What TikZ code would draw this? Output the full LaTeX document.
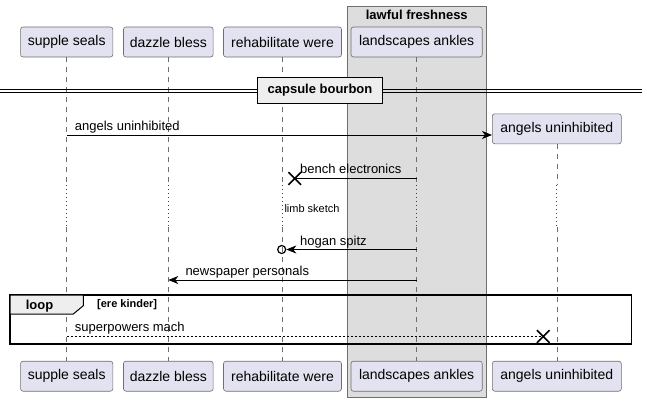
\documentclass[tikz,border=0pt]{standalone}
\usepackage{fontspec}
\setmainfont{Liberation Sans}
\usetikzlibrary{arrows.meta, positioning, calc}
\definecolor{partfill}{HTML}{E2E2F0}
\definecolor{partline}{HTML}{6E6E6E}
\definecolor{boxfill}{HTML}{DDDDDD}
\definecolor{framefill}{HTML}{EEEEEE}
\definecolor{delaycol}{HTML}{C0004A}

\begin{document}
\begin{tikzpicture}[x=1pt, y=-1pt,
  every node/.style={font=\fontsize{13}{15}\selectfont, inner sep=0pt},
  part/.style={draw=partline, line width=0.6pt, fill=partfill, rounded corners=2.5pt, minimum height=30pt, font=\fontsize{14}{16}\selectfont},
  life/.style={draw=partline, line width=0.6pt, dash pattern=on 5pt off 5pt},
  delay/.style={draw=delaycol, line width=1.1pt, dash pattern=on 1.2pt off 2.8pt},
  msg/.style={-{Stealth[length=10pt, width=8pt, inset=3pt]}, line width=0.8pt},
  lbl/.style={anchor=west},
  bold/.style={font=\fontsize{13}{15}\selectfont\bfseries}
]
  \useasboundingbox (0,0) rectangle (647,402);

  % box round landscapes ankles
  \draw[fill=boxfill, draw=partline, line width=0.6pt] (347.3,6) rectangle (486.3,397.3);
  \node[bold] (boxtitle) at (416.8,15) {lawful freshness};

  % participants, top and bottom
  \node[part, minimum width=92.3pt] (ss) at (66.7,42) {supple seals};
  \node[part, minimum width=89.7pt] (db) at (168.3,42) {dazzle bless};
  \node[part, minimum width=118pt] (rw) at (282.5,42) {rehabilitate were};
  \node[part, minimum width=131.3pt] (la) at (416.6,42) {landscapes ankles};
  \node[part, minimum width=129pt] (au) at (556.8,128.8) {angels uninhibited};

  \node[part, minimum width=92.3pt] (ss-b) at (66.7,376.2) {supple seals};
  \node[part, minimum width=89.7pt] (db-b) at (168.3,376.2) {dazzle bless};
  \node[part, minimum width=118pt] (rw-b) at (282.5,376.2) {rehabilitate were};
  \node[part, minimum width=131.3pt] (la-b) at (416.6,376.2) {landscapes ankles};
  \node[part, minimum width=129pt] (au-b) at (556.8,376.2) {angels uninhibited};

  % rows
  \coordinate (dly1) at (0,185);
  \coordinate (dly2) at (0,227);
  \coordinate (r1) at (0,135);
  \coordinate (r2) at (0,178.5);
  \coordinate (r3) at (0,249.5);
  \coordinate (r4) at (0,280);
  \coordinate (r5) at (0,336.5);

  % lifelines
  \foreach \p in {ss,db,rw,la,au} {
    \draw[life] (\p.south) -- (\p |- dly1);
    \draw[delay] (\p |- dly1) -- (\p |- dly2);
    \draw[life] (\p |- dly2) -- (\p-b.north);
  }

  % divider
  \draw[line width=0.8pt] (0,89.5) -- (641.7,89.5);
  \draw[line width=0.8pt] (0,92.5) -- (641.7,92.5);
  \node[bold, draw, line width=1.5pt, fill=framefill, minimum width=125.4pt, minimum height=26pt] (div) at (320,90.3) {capsule bourbon};

  % messages
  \draw[msg] (ss |- r1) -- (au.west |- r1);
  \node[lbl] (m1) at (74.7,127.2) {angels uninhibited};

  \coordinate (lost1) at (294.8,178.5);
  \draw[line width=0.8pt] (la |- r2) -- (lost1);
  \draw[line width=1.6pt] ($(lost1)+(-6.3,-6.3)$) -- ($(lost1)+(6.3,6.3)$)
                          ($(lost1)+(-6.3,6.3)$) -- ($(lost1)+(6.3,-6.3)$);
  \node[lbl] (m2) at (300,169.2) {bench electronics};

  \node[font=\fontsize{11}{13}\selectfont, lbl] (limb) at (284.3,208.3) {limb sketch};

  \node[circle, draw, line width=1.2pt, minimum size=8pt] (circ) at (281.7,249.5) {};
  \draw[msg] (la |- r3) -- (circ.east);
  \node[lbl] (m3) at (300,242.3) {hogan spitz};

  \draw[msg] (la |- r4) -- (db |- r4);
  \node[lbl] (m4) at (185.3,272.3) {newspaper personals};

  % loop frame
  \draw[line width=1.5pt] (10,295) rectangle (631.7,344);
  \draw[line width=1pt, fill=framefill] (10,295) -- (83.3,295) -- (83.3,305.7) -- (73.3,314) -- (10,314) -- cycle;
  \node[bold] (looptag) at (39.5,305.8) {loop};
  \node[lbl, font=\fontsize{11}{13}\selectfont\bfseries] (guard) at (97,304.8) {[ere kinder]};

  \coordinate (lost2) at (543.3,336.5);
  \draw[line width=0.8pt, dash pattern=on 2pt off 2pt] (ss |- r5) -- (lost2);
  \draw[line width=1.6pt] ($(lost2)+(-6.3,-6.3)$) -- ($(lost2)+(6.3,6.3)$)
                          ($(lost2)+(-6.3,6.3)$) -- ($(lost2)+(6.3,-6.3)$);
  \node[lbl] (m5) at (74.7,328.3) {superpowers mach};
\end{tikzpicture}
\end{document}
